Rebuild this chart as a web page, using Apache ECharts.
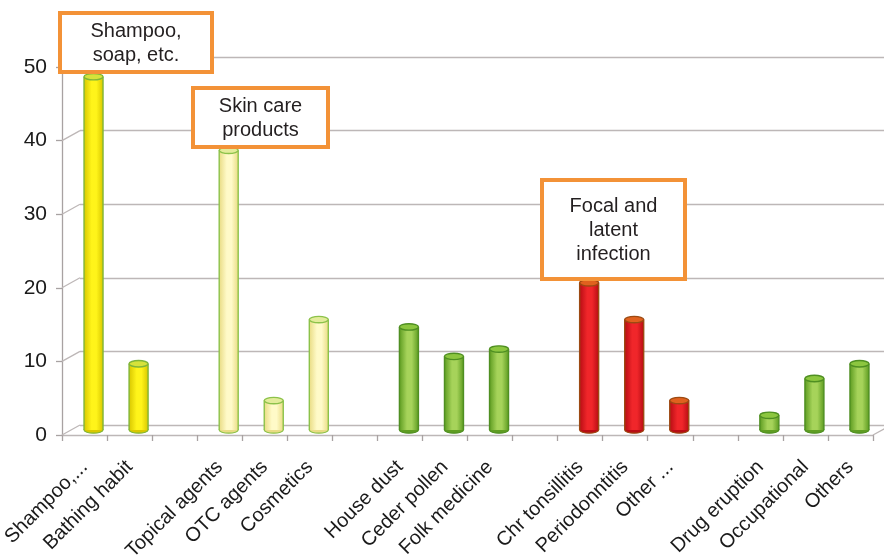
<!DOCTYPE html>
<html>
<head>
<meta charset="utf-8">
<script src="https://cdn.jsdelivr.net/npm/echarts@6/dist/echarts.min.js"></script>
<style>
  html, body { margin: 0; padding: 0; background: #fff; }
  #chart { width: 884px; height: 559px; }
</style>
</head>
<body>
<div id="chart"></div>
<script>
// Categories along the floor; empty names leave the gaps between groups
const categories = [
  'Shampoo,...', 'Bathing habit', '',
  'Topical agents', 'OTC agents', 'Cosmetics', '',
  'House dust', 'Ceder pollen', 'Folk medicine', '',
  'Chr tonsillitis', 'Periodonntitis', 'Other ...', '',
  'Drug eruption', 'Occupational', 'Others'
];
const values = [48, 9, null, 38, 4, 15, null, 14, 10, 11, null, 20, 15, 4, null, 2, 7, 9];
const groups = ['yellow', 'yellow', null, 'cream', 'cream', 'cream', null,
  'green', 'green', 'green', null, 'red', 'red', 'red', null, 'green', 'green', 'green'];
const yTicks = [0, 10, 20, 30, 40, 50];

// Callout boxes
const notes = [
  { text: 'Shampoo,\nsoap, etc.', box: [60, 13, 152, 59] },
  { text: 'Skin care\nproducts', box: [193, 88, 135, 59] },
  { text: 'Focal and\nlatent\ninfection', box: [542, 180, 143, 99] }
];

// Depth of the pseudo-3D box (back wall offset)
const DX = 18, DY = -10;
const GRID_LINE = '#bdb7b7';
const FONT = 'Liberation Sans, Arial, sans-serif';

const palette = {
  yellow: { edge: '#d9c800', mid: '#fff41a', border: '#7fb539', top: '#d6e23a' },
  cream:  { edge: '#e9dc84', mid: '#fffac8', border: '#8cc24a', top: '#e3ec9a' },
  green:  { edge: '#5f9d22', mid: '#a6d35a', border: '#4f8f22', top: '#8cc63f' },
  red:    { edge: '#b80d14', mid: '#f0262a', border: '#9c4a12', top: '#e0611e' }
};

const barData = [];
values.forEach((v, i) => { if (v != null) barData.push([i, v, groups[i]]); });

function renderBar(params, api) {
  const i = api.value(0), v = api.value(1);
  const c = palette[barData[params.dataIndex][2]];
  const top = api.coord([i, v]);
  const base = api.coord([i, 0]);
  const w = 19, ry = 3.2;
  const cx = top[0] + DX / 2;
  const yT = top[1] + DY / 2;
  const yB = base[1] + DY / 2;
  const grad = new echarts.graphic.LinearGradient(0, 0, 1, 0, [
    { offset: 0, color: c.edge },
    { offset: 0.4, color: c.mid },
    { offset: 0.65, color: c.mid },
    { offset: 1, color: c.edge }
  ]);
  return {
    type: 'group',
    children: [
      { type: 'ellipse', shape: { cx: cx, cy: yB, rx: w / 2, ry: ry },
        style: { fill: c.edge, stroke: c.border, lineWidth: 1.2 } },
      { type: 'rect', shape: { x: cx - w / 2, y: yT, width: w, height: yB - yT },
        style: { fill: grad } },
      { type: 'line', shape: { x1: cx - w / 2, y1: yT, x2: cx - w / 2, y2: yB },
        style: { stroke: c.border, lineWidth: 1.4 } },
      { type: 'line', shape: { x1: cx + w / 2, y1: yT, x2: cx + w / 2, y2: yB },
        style: { stroke: c.border, lineWidth: 1.4 } },
      { type: 'ellipse', shape: { cx: cx, cy: yT, rx: w / 2, ry: ry },
        style: { fill: c.top, stroke: c.border, lineWidth: 1.4 } }
    ]
  };
}

// Diagonal edges joining the front axis to the back wall
function renderEdges(params, api) {
  const v = api.value(0);
  const cs = params.coordSys;
  const y = api.coord([0, v])[1];
  const children = [
    { type: 'line', shape: { x1: cs.x, y1: y, x2: cs.x + DX, y2: y + DY },
      style: { stroke: GRID_LINE, lineWidth: 1.3 } }
  ];
  if (v === 0) {
    children.push({ type: 'line',
      shape: { x1: cs.x + cs.width, y1: y, x2: cs.x + cs.width + DX, y2: y + DY },
      style: { stroke: GRID_LINE, lineWidth: 1.3 } });
  }
  return { type: 'group', children: children };
}

const chart = echarts.init(document.getElementById('chart'), null, { renderer: 'canvas' });

const graphics = [];
notes.forEach(n => {
  const [x, y, w, h] = n.box;
  graphics.push({
    type: 'rect', z: 100, zlevel: 1,
    shape: { x: x, y: y, width: w, height: h },
    style: { fill: '#ffffff', stroke: '#f39237', lineWidth: 4 }
  });
  graphics.push({
    type: 'text', z: 101, zlevel: 1, x: x + w / 2, y: y + h / 2 + 1,
    style: { text: n.text, fill: '#231f20', font: '20px ' + FONT,
      textAlign: 'center', textVerticalAlign: 'middle', lineHeight: 24 }
  });
});

chart.setOption({
  animation: false,
  backgroundColor: '#ffffff',
  grid: [
    { left: 62, right: 11, top: 67, bottom: 124, outerBoundsMode: 'none', containLabel: false },
    { left: 62 + DX, right: 11 - DX, top: 67 + DY, bottom: 124 - DY, outerBoundsMode: 'none', containLabel: false }
  ],
  xAxis: [
    {
      type: 'category', gridIndex: 0, data: categories,
      axisLine: { lineStyle: { color: GRID_LINE, width: 1.3 } },
      axisTick: { show: true, length: 6, lineStyle: { color: '#a8a2a2', width: 1.3 } },
      axisLabel: { interval: 0, rotate: 45, margin: 29, color: '#1a1a1a',
        fontSize: 20, fontFamily: FONT },
      splitLine: { show: false }
    },
    {
      type: 'category', gridIndex: 1, data: categories, show: false
    }
  ],
  yAxis: [
    {
      type: 'value', gridIndex: 0, min: 0, max: 50, interval: 10,
      axisLine: { show: true, lineStyle: { color: '#a8a2a2', width: 1.3 } },
      axisTick: { show: true, length: 6, lineStyle: { color: '#a8a2a2', width: 1.3 } },
      axisLabel: { margin: 15, color: '#1a1a1a', fontSize: 21, fontFamily: FONT },
      splitLine: { show: false }
    },
    {
      type: 'value', gridIndex: 1, min: 0, max: 50, interval: 10,
      axisLine: { show: false }, axisTick: { show: false }, axisLabel: { show: false },
      splitLine: { show: true, lineStyle: { color: GRID_LINE, width: 1.3 } }
    }
  ],
  series: [
    {
      type: 'custom', xAxisIndex: 0, yAxisIndex: 0, z: 1,
      renderItem: renderEdges,
      data: yTicks.map(v => [v]),
      encode: { y: 0 }
    },
    {
      type: 'custom', xAxisIndex: 0, yAxisIndex: 0, z: 5,
      renderItem: renderBar,
      data: barData.map(d => [d[0], d[1]]),
      encode: { x: 0, y: 1 }
    }
  ],
  graphic: graphics
});
</script>
</body>
</html>
